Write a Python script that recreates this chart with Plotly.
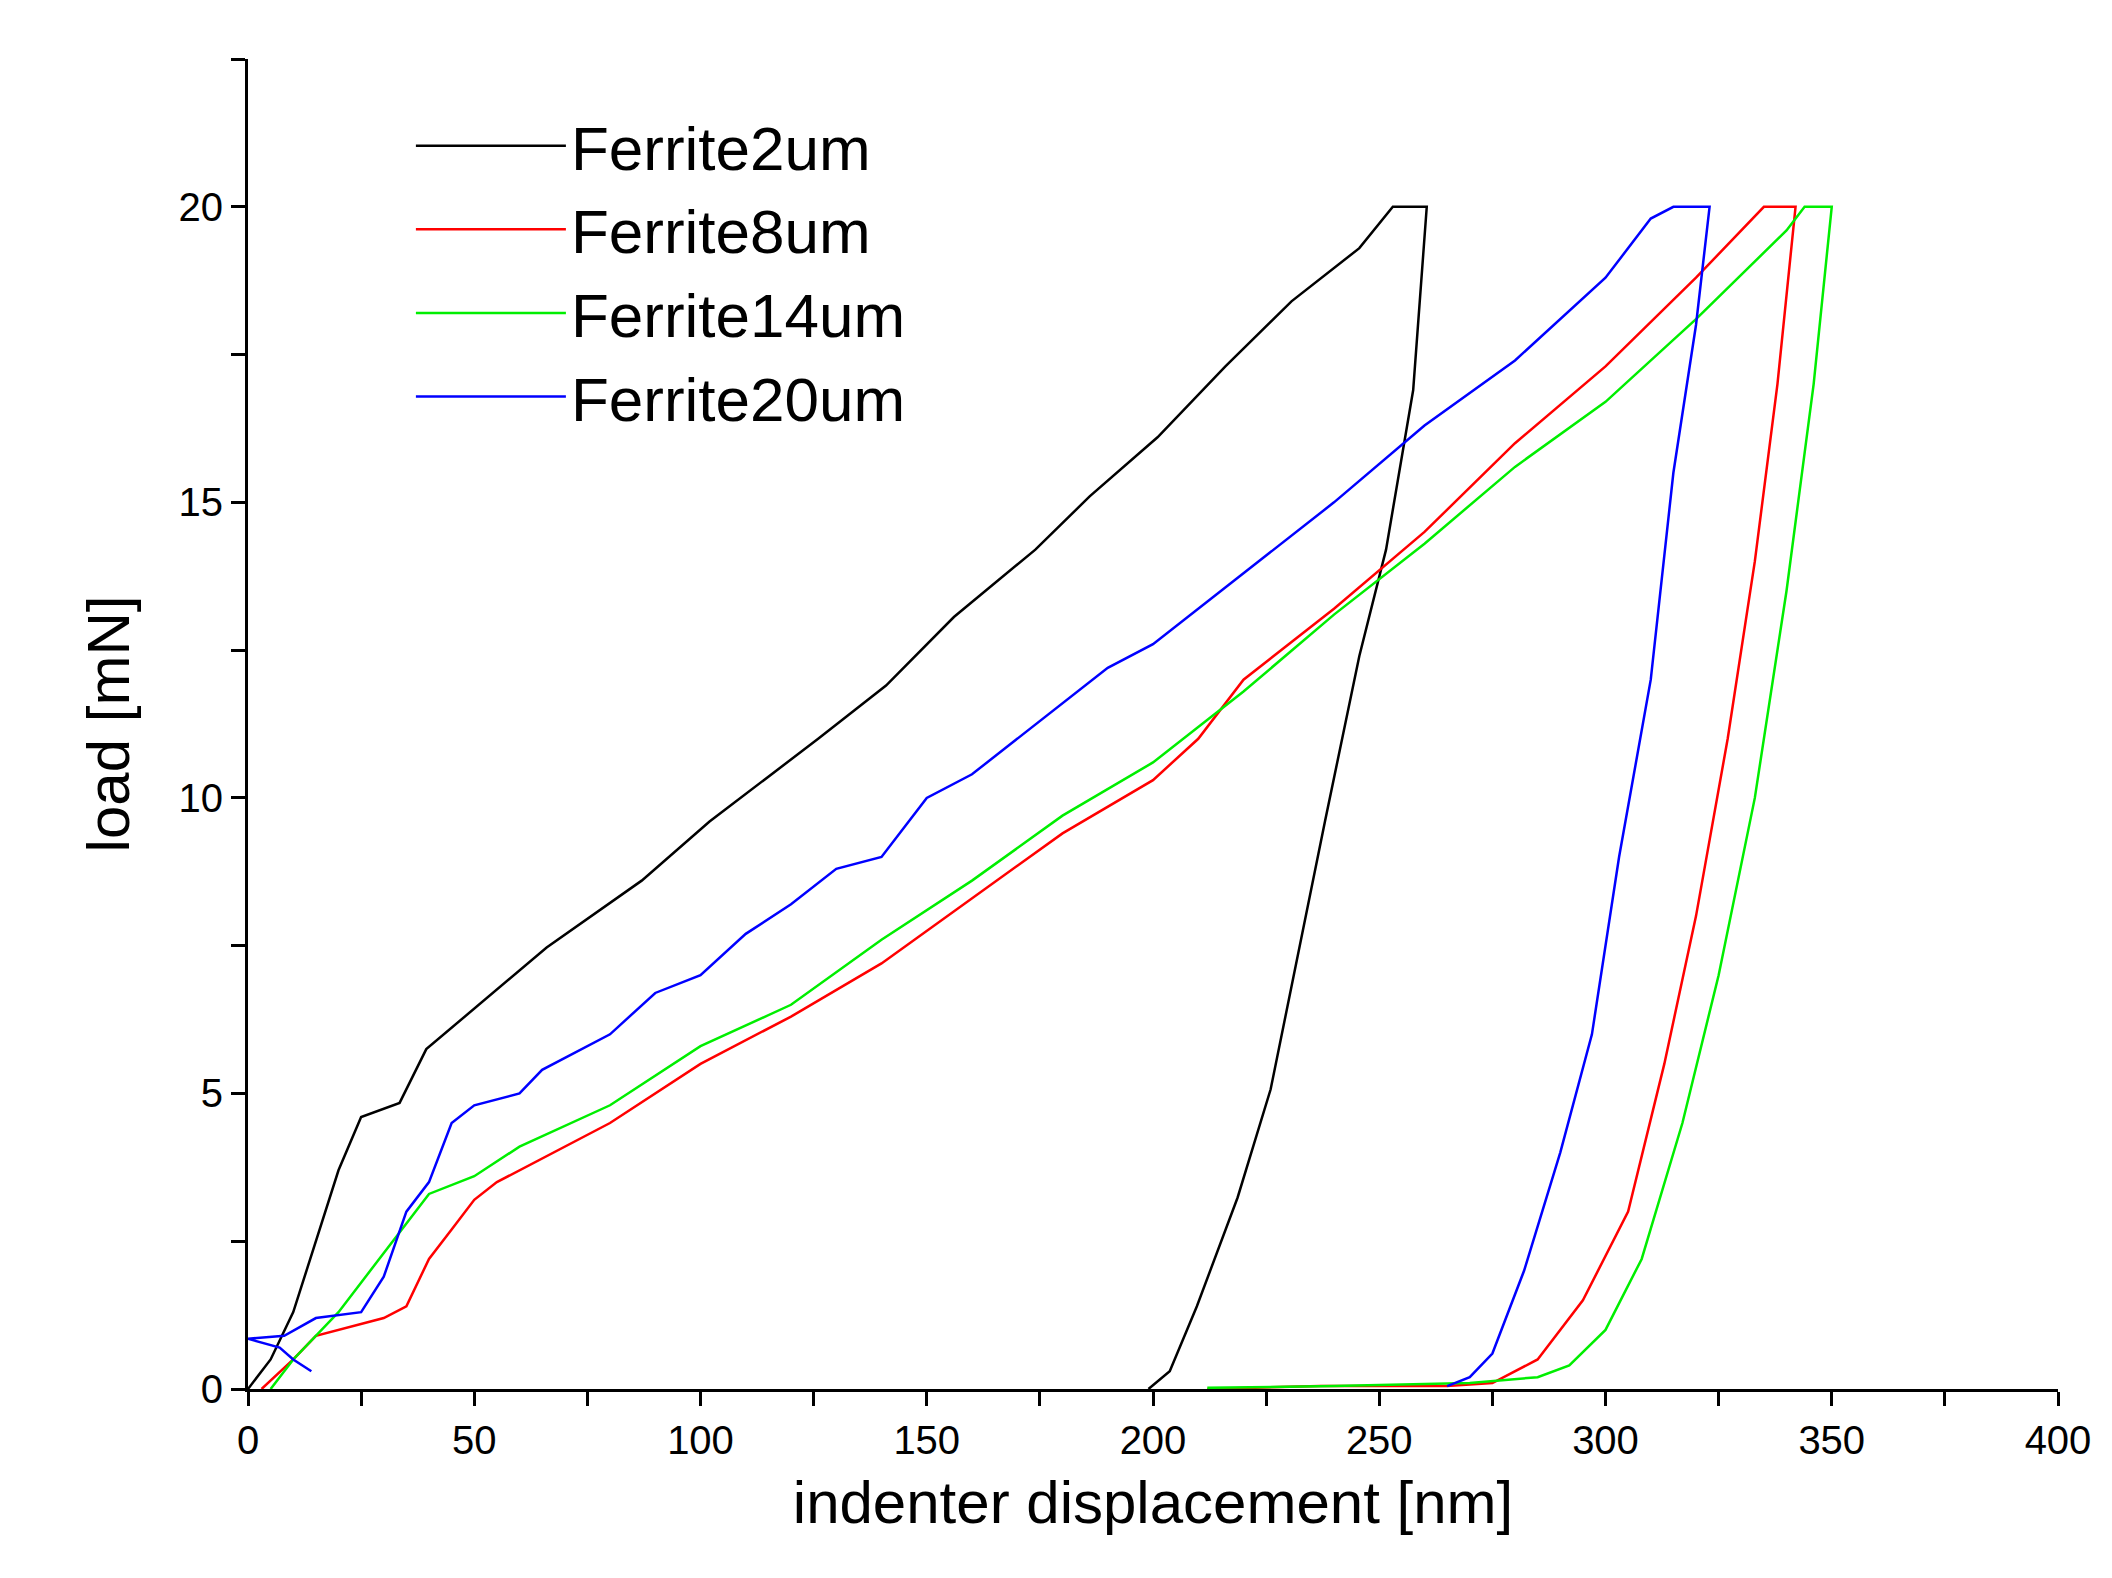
import plotly.graph_objects as go

names = ["Ferrite2um", "Ferrite8um", "Ferrite14um", "Ferrite20um"]
colors = ["black", "red", "#00ee00", "blue"]

x_2 = [0, 5, 10, 15, 20, 25, 33.5, 39.4, 50, 66, 87, 102, 126, 141, 156, 174, 186, 201, 216, 230.6, 245.6, 253, 260.5,
       257.5, 251.5, 245.6, 238, 232, 226, 218.7, 209.7, 203.7, 199]
y_2 = [0, 0.5, 1.3, 2.5, 3.7, 4.6, 4.84, 5.75, 6.44, 7.47, 8.6, 9.6, 11, 11.9, 13.06, 14.2, 15.1, 16.1, 17.3, 18.4, 19.3, 20, 20,
       16.9, 14.2, 12.4, 9.6, 7.35, 5.07, 3.24, 1.4, 0.3, 0]

x_8 = [3, 10, 15, 20, 30, 35, 40, 45, 50, 55, 65, 80, 100, 120, 140, 160, 180, 200, 210, 220, 240, 260, 280, 300, 320, 335, 342,
       338, 333, 327, 320, 313, 305, 295, 285, 275, 265, 237, 212]
y_8 = [0, 0.5, 0.9, 1, 1.2, 1.4, 2.2, 2.7, 3.2, 3.5, 3.9, 4.5, 5.5, 6.3, 7.2, 8.3, 9.4, 10.3, 11, 12, 13.2, 14.5, 16, 17.3, 18.8, 20, 20,
       17, 14, 11, 8, 5.5, 3, 1.5, 0.5, 0.1, 0.05, 0.05, 0]

x_14 = [5, 10, 20, 30, 40, 50, 60, 80, 90, 100, 120, 140, 160, 180, 200, 220, 240, 260, 280, 300, 320, 340, 344, 350,
        346, 340, 333, 325, 317, 308, 300, 292, 285, 270, 240, 212]
y_14 = [0, 0.5, 1.3, 2.3, 3.3, 3.6, 4.1, 4.8, 5.3, 5.8, 6.5, 7.6, 8.6, 9.7, 10.6, 11.8, 13.1, 14.3, 15.6, 16.7, 18.1, 19.6, 20, 20,
        17, 13.5, 10, 7, 4.5, 2.2, 1, 0.4, 0.2, 0.1, 0.05, 0.02]

x_20 = [14, 10, 7, 0, 8, 15, 25, 30, 35, 40, 45, 50, 60, 65, 80, 90, 100, 110, 120, 130, 140, 150, 160, 175, 190, 200, 220, 240,
        260, 280, 300, 310, 315, 323, 320, 315, 310, 303, 297, 290, 282, 275, 270, 265]
y_20 = [0.3, 0.5, 0.7, 0.85, 0.9, 1.2, 1.3, 1.9, 3, 3.5, 4.5, 4.8, 5, 5.4, 6, 6.7, 7, 7.7, 8.2, 8.8, 9, 10, 10.4, 11.3, 12.2, 12.6,
        13.8, 15, 16.3, 17.4, 18.8, 19.8, 20, 20, 18, 15.5, 12, 9, 6, 4, 2, 0.6, 0.2, 0.05]

series = [(x_2, y_2), (x_8, y_8), (x_14, y_14), (x_20, y_20)]

fig = go.Figure()
for (xs, ys), n, c in zip(series, names, colors):
    fig.add_trace(go.Scatter(x=xs, y=ys, mode="lines", name=n, line=dict(color=c, width=2.5)))

font = "Liberation Sans, Arial, sans-serif"
axis_common = dict(showline=True, linecolor="black", linewidth=3, ticks="outside", ticklen=14, tickwidth=2.5,
                   tickcolor="black", showgrid=False, zeroline=False,
                   tickfont=dict(family=font, size=40, color="black"))
fig.update_layout(
    width=2112, height=1578, plot_bgcolor="white", paper_bgcolor="white",
    margin=dict(l=240, r=62, t=51, b=197),
    xaxis=dict(range=[0, 400], dtick=50, title=dict(text="indenter displacement [nm]", font=dict(family=font, size=60, color="black"), standoff=20),
               minor=dict(dtick=25, ticks="outside", ticklen=14, tickwidth=2.5, tickcolor="black"), **axis_common),
    yaxis=dict(range=[0, 22.5], tickvals=[0, 5, 10, 15, 20], title=dict(text="load [mN]", font=dict(family=font, size=60, color="black"), standoff=30),
               minor=dict(tickvals=[2.5, 7.5, 12.5, 17.5, 22.5], ticks="outside", ticklen=14, tickwidth=2.5, tickcolor="black"), **axis_common),
    legend=dict(x=0.09, y=0.97, xanchor="left", yanchor="top", bgcolor="rgba(0,0,0,0)",
                font=dict(family=font, size=62, color="black"), itemwidth=150, tracegroupgap=0),
)
fig.write_html("out.html")
